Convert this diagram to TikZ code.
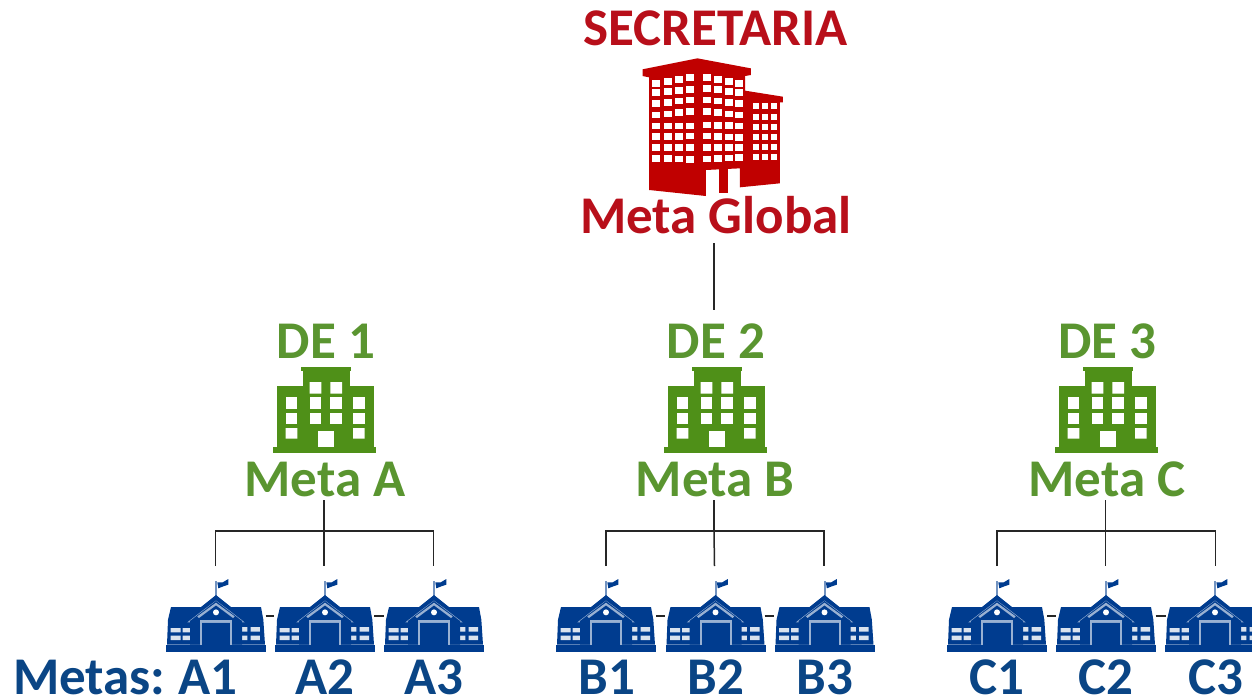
\documentclass[tikz,border=0pt]{standalone}
\usepackage{fontspec}
\setmainfont{Carlito}[BoldFont=Carlito Bold]
\definecolor{redicon}{HTML}{C00000}
\definecolor{redtext}{HTML}{B80F1A}
\definecolor{greenicon}{HTML}{4F9018}
\definecolor{greentext}{HTML}{5A9530}
\definecolor{blueicon}{HTML}{003C8F}
\definecolor{bluetext}{HTML}{0A4585}
\tikzset{
  lbl/.style={inner sep=0pt,outer sep=0pt,anchor=base,font=\fontsize{53}{53}\selectfont\bfseries},
  redlbl/.style={lbl,text=redtext},
  greenlbl/.style={lbl,text=greentext},
  bluelbl/.style={lbl,text=bluetext},
  slot/.style={inner sep=0pt,outer sep=0pt,minimum width=100pt,minimum height=100pt},
  conn/.style={draw=black!85,line width=1.5pt},
  schoolicon/.pic={
    \begin{scope}[x=.3333pt,y=-.3333pt,shift={(-168,-247)}]
      \fill[blueicon] (18,225) rectangle (318,247);
      \fill[blueicon] (21,225) -- (24,150) -- (33,112) -- (303,112) -- (310,150) -- (315,225) -- cycle;
      \fill[blueicon!55!white] (166,35) rectangle (171,80);
      \fill[blueicon] (172,38) -- (188,38) -- (205,28) -- (205,45) -- (190,50) -- (175,56) -- cycle;
      \fill[white!85!blueicon] (32,175) rectangle (62,188) (68,175) rectangle (98,188)
                   (32,198) rectangle (62,211) (68,198) rectangle (98,211)
                   (240,172) rectangle (262,186) (272,172) rectangle (300,186)
                   (240,198) rectangle (262,211) (272,198) rectangle (300,211);
      \fill[blueicon!45!white] (82,158) -- (168,88) -- (254,158) -- cycle;
      \fill[blueicon] (90,154) -- (168,94) -- (246,154) -- (246,225) -- (90,225) -- cycle;
      \fill[blueicon] (88,140) -- (168,76) -- (248,140) -- (243,148) -- (168,92) -- (93,148) -- cycle;
      \fill[blueicon!40!white] (112,140) -- (168,99) -- (224,140) -- (219,145) -- (168,107) -- (117,145) -- cycle;
      \fill[white] (168,128) circle (9);
      \fill[blueicon!40!white] (120,150) rectangle (216,225);
      \fill[blueicon] (126,156) rectangle (210,225);
      \fill[blueicon!45!white] (126,156) rectangle (210,160);
      \fill[blueicon] (133,160) rectangle (204,225);
      \fill[blueicon] (18,225) rectangle (318,247);
    \end{scope}
  },
  greenbldg/.pic={
    \begin{scope}[x=.3333pt,y=-.3333pt,shift={(-196,-293)}]
      \fill[greenicon] (40,275) rectangle (350,293);
      \fill[greenicon] (52,92) rectangle (342,275);
      \fill[greenicon] (130,45) rectangle (270,92);
      \fill[greenicon] (125,35) rectangle (275,48);
      \fill[white] (150,80) rectangle (185,115) (212,80) rectangle (247,115);
      \foreach \cx in {78,150,212,280}{
        \fill[white] (\cx,125) rectangle ++(35,35);
        \fill[white] (\cx,172) rectangle ++(35,35);
      }
      \fill[white] (78,218) rectangle ++(35,32) (280,218) rectangle ++(35,32);
      \fill[white] (175,226) rectangle (222,275);
    \end{scope}
  },
  redbldg/.pic={
    \begin{scope}[x=.3333pt,y=-.3333pt,shift={(-235,-468)}]
      \fill[redicon] (70,88) -- (235,55) -- (395,85) -- (395,105) -- (378,108) -- (378,152)
        -- (491,170) -- (491,187) -- (482,187) -- (482,430) -- (362,442)
        -- (362,385) -- (260,390) -- (260,468) -- (90,450) -- (90,112) -- (70,108) -- cycle;
      \fill[redicon] (298,385) rectangle (325,460);
      \foreach \yo/\yi in {130/113,158/148,190/180,225/215,258/258,290/288,322/322,355/358}{
        \foreach \xx/\t in {110/0,145/.33,178/.67,213/1}{
          \pgfmathsetmacro{\yy}{\yo+(\yi-\yo)*\t}
          \fill[white] (\xx-12,\yy-10) rectangle (\xx+12,\yy+10);
        }
      }
      \foreach \yi/\yo in {112/130,145/158,180/190,215/225,255/258,288/292,322/322,357/352}{
        \foreach \xx/\t in {262/0,297/.33,330/.67,360/1}{
          \pgfmathsetmacro{\yy}{\yi+(\yo-\yi)*\t}
          \fill[white] (\xx-12,\yy-10) rectangle (\xx+12,\yy+10);
        }
      }
      \foreach \yy in {197,230,262,292,322,352}{
        \foreach \xx in {410,437,463}{
          \fill[white] (\xx-9,\yy-9) rectangle (\xx+9,\yy+9);
        }
      }
    \end{scope}
  }
}
\begin{document}
\begin{tikzpicture}[x=1pt,y=-1pt]
\useasboundingbox (0,0) rectangle (1252,698);
\clip (0,0) rectangle (1252,698);
% Labels
\node[redlbl] (sec) at (715.5,46) {SECRETARIA};
\node[redlbl] (mg) at (716,233) {Meta Global};
\node[greenlbl] (de1) at (326,358) {DE 1};
\node[greenlbl] (de2) at (716,358) {DE 2};
\node[greenlbl] (de3) at (1107.5,358) {DE 3};
\node[greenlbl] (ma) at (325,496) {Meta A};
\node[greenlbl] (mb) at (715,496) {Meta B};
\node[greenlbl] (mc) at (1107,496) {Meta C};
\node[bluelbl,anchor=base west] (la) at (13,694) {\spaceskip=9pt Metas: A1};
\node[bluelbl] (la2) at (324.5,694) {A2};
\node[bluelbl] (la3) at (433.5,694) {A3};
\node[bluelbl] (lb1) at (607,694) {B1};
\node[bluelbl] (lb2) at (716,694) {B2};
\node[bluelbl] (lb3) at (825,694) {B3};
\node[bluelbl] (lc1) at (997,694) {C1};
\node[bluelbl] (lc2) at (1106,694) {C2};
\node[bluelbl] (lc3) at (1216,694) {C3};
% Icons
\pic at (697.5,196) {redbldg};
\foreach \x in {325,716,1107}{ \pic at (\x,453) {greenbldg}; }
\foreach \x in {216,325,434,606,715.5,824.5,997,1106,1215}{ \pic at (\x,652) {schoolicon}; }
% Anchor slots
\foreach \n/\x in {a1/215.5,a2/324,a3/433.5,b1/606,b2/714.5,b3/824,c1/997,c2/1105.5,c3/1215.5}{
  \node[slot] (\n) at (\x,616) {};
}
\coordinate (ha) at (324,531);
\coordinate (hb) at (714,531);
\coordinate (hc) at (1105.5,531);
% Connectors
\draw[conn,shorten <=10pt,shorten >=13pt] (mg.south -| hb) -- (de2.north -| hb);
\foreach \h/\m/\l/\c/\r in {ha/ma/a1/a2/a3,hb/mb/b1/b2/b3,hc/mc/c1/c2/c3}{
  \draw[conn,shorten <=4pt] (\m.south -| \h) -- (\h);
  \draw[conn] (\l.north) |- (\h) -| (\r.north);
  \draw[conn] (\h) -- (\c.north);
  \draw[conn] (\l.east) -- (\c.west);
  \draw[conn] (\c.east) -- (\r.west);
}
\end{tikzpicture}
\end{document}
